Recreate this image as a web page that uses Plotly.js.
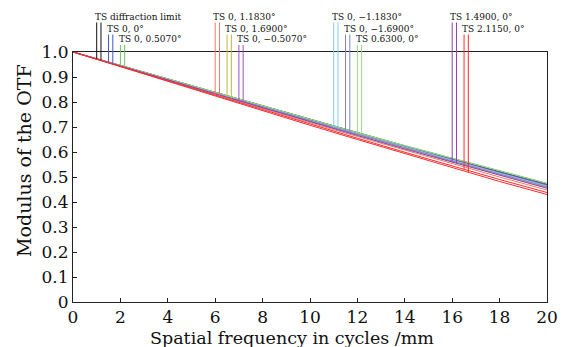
<!DOCTYPE html>
<html>
<head>
<meta charset="utf-8">
<script src="https://cdn.plot.ly/plotly-3.0.1.min.js"></script>
<style>html,body{margin:0;padding:0;background:#fff;}#chart{width:562px;height:347px;}</style>
</head>
<body>
<div id="chart"></div>
<script>
// Spatial frequency (cycles/mm)
const freq = [0, 2, 4, 6, 8, 10, 12, 14, 16, 18, 20];

// MTF values
const diffLimit  = [1, 0.946, 0.891, 0.837, 0.783, 0.730, 0.676, 0.624, 0.572, 0.522, 0.472];
const f0_0       = [1, 0.945, 0.890, 0.836, 0.782, 0.728, 0.675, 0.622, 0.570, 0.519, 0.469];
const f0_0507    = [1, 0.946, 0.892, 0.838, 0.784, 0.731, 0.678, 0.626, 0.575, 0.525, 0.475];
const f0_1183    = [1, 0.943, 0.886, 0.829, 0.773, 0.717, 0.662, 0.607, 0.553, 0.500, 0.448];
const f0_1690    = [1, 0.944, 0.888, 0.832, 0.777, 0.722, 0.668, 0.614, 0.561, 0.509, 0.458];
const f0_m0507   = [1, 0.945, 0.889, 0.835, 0.780, 0.726, 0.673, 0.620, 0.568, 0.517, 0.466];
const f0_m1183   = [1, 0.944, 0.889, 0.834, 0.779, 0.725, 0.672, 0.619, 0.566, 0.515, 0.464];
const f0_m1690   = [1, 0.944, 0.888, 0.833, 0.778, 0.724, 0.670, 0.617, 0.564, 0.512, 0.461];
const f0630_0    = [1, 0.946, 0.891, 0.837, 0.783, 0.730, 0.677, 0.625, 0.574, 0.524, 0.474];
const f1490_0    = [1, 0.944, 0.887, 0.831, 0.776, 0.721, 0.666, 0.612, 0.559, 0.507, 0.455];
const f2115_0T   = [1, 0.942, 0.884, 0.826, 0.769, 0.712, 0.655, 0.599, 0.544, 0.490, 0.438];
const f2115_0S   = [1, 0.941, 0.882, 0.823, 0.765, 0.707, 0.650, 0.593, 0.537, 0.482, 0.430];

const seriesNames = ["TS diffraction limit", "TS 0, 0°", "TS 0, 0.5070°", "TS 0, 1.1830°", "TS 0, 1.6900°",
  "TS 0, \u22120.5070°", "TS 0, \u22121.1830°", "TS 0, \u22121.6900°", "TS 0.6300, 0°", "TS 1.4900, 0°", "TS 2.1150, 0°"];
const seriesT = [diffLimit, f0_0, f0_0507, f0_1183, f0_1690, f0_m0507, f0_m1183, f0_m1690, f0630_0, f1490_0, f2115_0T];
const seriesS = [diffLimit, f0_0, f0_0507, f0_1183, f0_1690, f0_m0507, f0_m1183, f0_m1690, f0630_0, f1490_0, f2115_0S];
const colors = ["#111111", "#3f55c8", "#6cc060", "#f07a68", "#b8b845", "#9a55b8", "#7ed0e0", "#7d7fd0", "#9ed48a", "#8e3fb0", "#ff2a2a"];
// legend marker positions (x in cycles/mm) and label rows
const legendX = [1.0, 1.5, 2.0, 6.0, 6.5, 7.0, 11.0, 11.5, 12.0, 16.0, 16.5];
const legendRow = [0, 1, 2, 0, 1, 2, 0, 1, 2, 0, 1];

const xTicks = [0, 2, 4, 6, 8, 10, 12, 14, 16, 18, 20];
const xTickText = ["0", "2", "4", "6", "8", "10", "12", "14", "16", "18", "20"];
const yTicks = [0, 0.1, 0.2, 0.3, 0.4, 0.5, 0.6, 0.7, 0.8, 0.9, 1.0];
const yTickText = ["0", "0.1", "0.2", "0.3", "0.4", "0.5", "0.6", "0.7", "0.8", "0.9", "1.0"];

function interp(xs, ys, x) {
  for (let i = 0; i < xs.length - 1; i++) {
    if (x >= xs[i] && x <= xs[i + 1]) {
      const t = (x - xs[i]) / (xs[i + 1] - xs[i]);
      return ys[i] + t * (ys[i + 1] - ys[i]);
    }
  }
  return ys[ys.length - 1];
}

const FONT = "DejaVu Serif, Liberation Serif, serif";
const traces = [];
for (let i = 0; i < seriesNames.length; i++) {
  traces.push({x: freq, y: seriesT[i], mode: "lines", line: {color: colors[i], width: 1}, name: seriesNames[i] + " T"});
  if (seriesS[i] !== seriesT[i]) {
    traces.push({x: freq, y: seriesS[i], mode: "lines", line: {color: colors[i], width: 1}, name: seriesNames[i] + " S"});
  }
}

const rowTop = [1.118, 1.07, 1.028];
const rowLabel = [1.14, 1.093, 1.05];
const shapes = [];
const annotations = [];
const gap = 0.18;
for (let i = 0; i < seriesNames.length; i++) {
  const xT = legendX[i], xS = legendX[i] + gap;
  shapes.push({type: "line", xref: "x", yref: "paper", x0: xT, x1: xT, y0: interp(freq, seriesT[i], xT), y1: rowTop[legendRow[i]], line: {color: colors[i], width: 1}});
  shapes.push({type: "line", xref: "x", yref: "paper", x0: xS, x1: xS, y0: interp(freq, seriesS[i], xS), y1: rowTop[legendRow[i]], line: {color: colors[i], width: 1}});
  annotations.push({xref: "x", yref: "paper", x: xT - 0.16, y: rowLabel[legendRow[i]], xanchor: "left", yanchor: "middle",
    text: seriesNames[i], showarrow: false, font: {family: FONT, size: 9, color: "#111"}});
}
annotations.push({xref: "paper", yref: "paper", x: 0.461, y: -0.145, xanchor: "center", yanchor: "middle",
  text: "Spatial frequency in cycles /mm", showarrow: false, font: {family: FONT, size: 17.5, color: "#111"}});
annotations.push({xref: "paper", yref: "paper", x: -0.103, y: 0.565, xanchor: "center", yanchor: "middle", textangle: -90,
  text: "Modulus of the OTF", showarrow: false, font: {family: FONT, size: 19, color: "#111"}});

const layout = {
  width: 562, height: 347,
  margin: {l: 73, r: 15, t: 52, b: 45},
  paper_bgcolor: "#fff", plot_bgcolor: "#fff",
  showlegend: false,
  xaxis: {range: [0, 20], tickvals: xTicks, ticktext: xTickText, ticks: "inside", ticklen: 4, tickcolor: "#222",
    showgrid: false, zeroline: false, showline: true, linecolor: "#222", linewidth: 1, mirror: true,
    tickfont: {family: FONT, size: 17, color: "#111"}},
  yaxis: {range: [0, 1], tickvals: yTicks, ticktext: yTickText, ticks: "inside", ticklen: 4, tickcolor: "#222",
    showgrid: false, zeroline: false, showline: true, linecolor: "#222", linewidth: 1, mirror: true,
    tickfont: {family: FONT, size: 17, color: "#111"}},
  shapes: shapes,
  annotations: annotations
};

Plotly.newPlot("chart", traces, layout, {displayModeBar: false, staticPlot: true});
</script>
</body>
</html>
